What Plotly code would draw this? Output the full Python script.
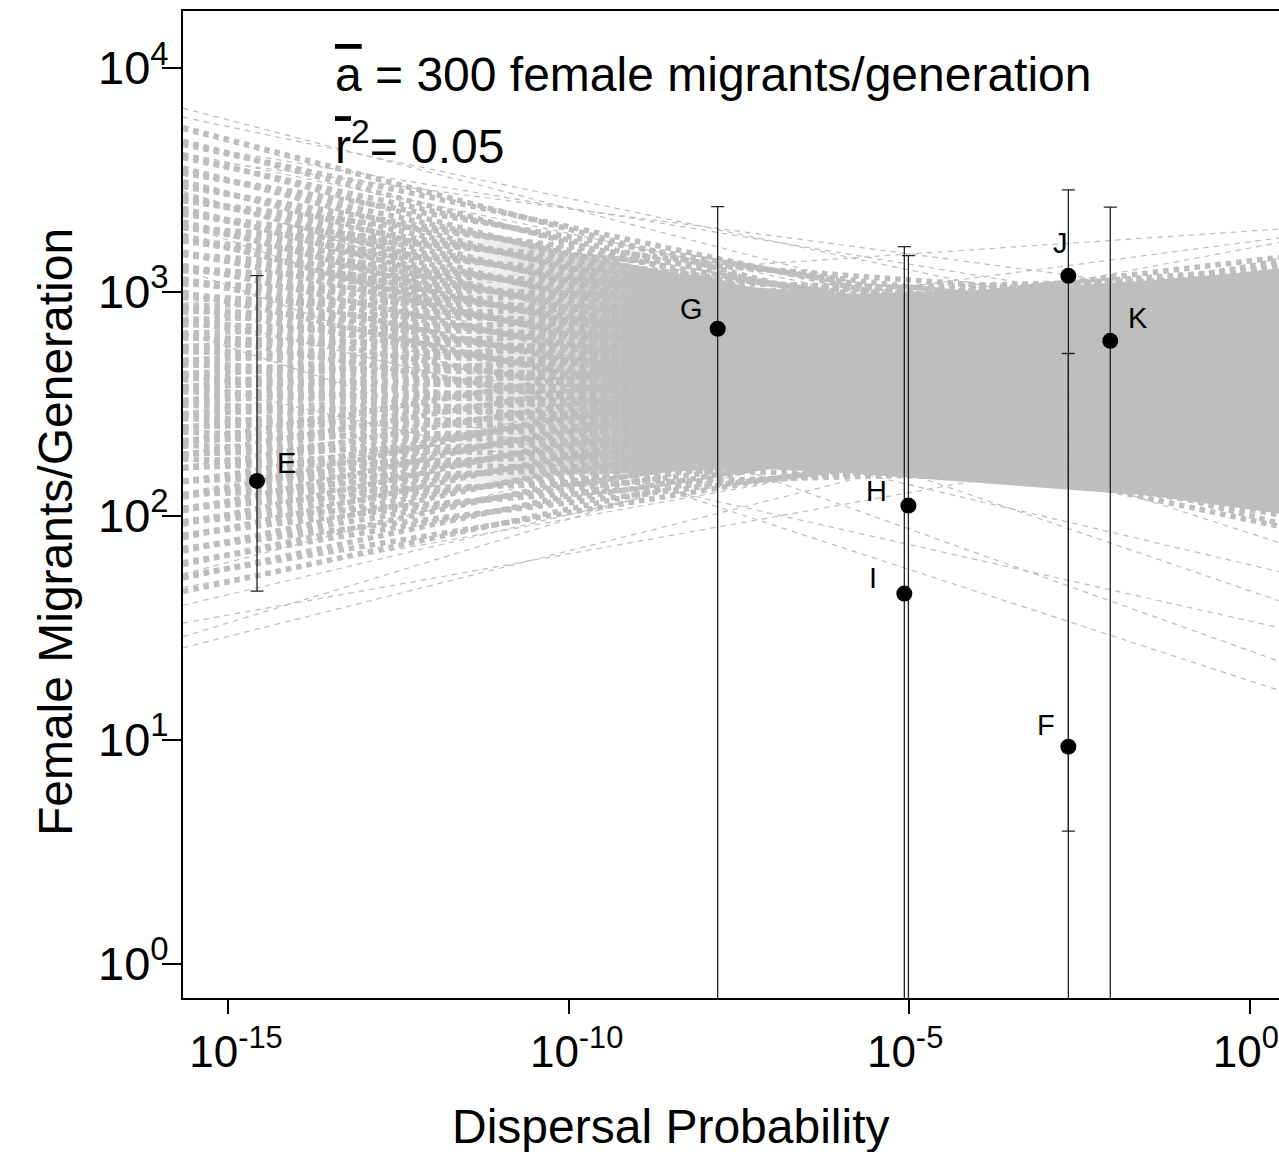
import math
import plotly.graph_objects as go

# ---------------- data ----------------
labels = ["E", "G", "H", "I", "J", "K", "F"]
disp_prob = [2.67e-15, 1.54e-8, 9.7e-6, 8.45e-6, 2.16e-3, 8.9e-3, 2.16e-3]
migrants = [143, 684, 111, 44.9, 1178, 604, 9.3]
ci_upper = [1180, 2400, 1450, 1590, 2850, 2390, 530]
ci_lower = [46, 0.01, 0.01, 0.01, 0.01, 0.01, 3.9]

# bootstrap regression fan (log10 space): core lines given as slope per decade
# and level (log10 y) at the pivot log10(x) = -4.5
fan_pivot_logx = -4.5
fan_core_slopes = [-0.080, -0.065, -0.050, -0.036, -0.022, -0.007, 0.008, 0.022, 0.036, 0.050, 0.065]
fan_core_levels = [
    [2.36, 2.42, 2.48, 2.54, 2.60, 2.66, 2.72, 2.78, 2.84],
    [2.273, 2.333, 2.393, 2.453, 2.513, 2.573, 2.633, 2.693, 2.753, 2.813, 2.873, 2.933],
    [2.251, 2.311, 2.371, 2.431, 2.491, 2.551, 2.611, 2.671, 2.731, 2.791, 2.851, 2.911, 2.971],
    [2.224, 2.284, 2.344, 2.404, 2.464, 2.524, 2.584, 2.644, 2.704, 2.764, 2.824, 2.884, 2.944, 3.004],
    [2.202, 2.262, 2.322, 2.382, 2.442, 2.502, 2.562, 2.622, 2.682, 2.742, 2.802, 2.862, 2.922, 2.982, 3.042],
    [2.175, 2.235, 2.295, 2.355, 2.415, 2.475, 2.535, 2.595, 2.655, 2.715, 2.775, 2.835, 2.895, 2.955, 3.015],
    [2.185, 2.245, 2.305, 2.365, 2.425, 2.485, 2.545, 2.605, 2.665, 2.725, 2.785, 2.845, 2.905, 2.965, 3.025],
    [2.218, 2.278, 2.338, 2.398, 2.458, 2.518, 2.578, 2.638, 2.698, 2.758, 2.818, 2.878, 2.938, 2.998],
    [2.256, 2.316, 2.376, 2.436, 2.496, 2.556, 2.616, 2.676, 2.736, 2.796, 2.856, 2.916, 2.976],
    [2.289, 2.349, 2.409, 2.469, 2.529, 2.589, 2.649, 2.709, 2.769, 2.829, 2.889],
    [2.387, 2.447, 2.507, 2.567, 2.627, 2.687, 2.747, 2.807],
]
# sparse outer lines: log10(y) at left edge and at right edge of the plot
fan_outer_left = [3.82, 3.78, 3.72, 3.66, 3.62, 3.60, 2.95, 2.60, 2.30, 2.10,
                  1.41, 1.46, 1.52, 1.60, 1.68, 1.74, 2.82, 3.10, 2.60, 3.30, 2.90, 3.45]
fan_outer_right = [2.55, 2.75, 2.45, 2.85, 2.60, 2.95, 3.28, 3.24, 3.22, 3.15,
                   2.64, 2.95, 2.40, 2.75, 2.55, 3.00, 1.22, 1.35, 1.50, 1.62, 1.75, 1.88]
# envelope of the dense (grey) part of the fan, log10 units
fan_solid_logx = [-15.66, -13.5, -11.5, -10.1, -7.3, -5.9, -3.7, -1.5, 0.426]
fan_solid_upper = [3.57, 3.42, 3.26, 3.18, 3.02, 2.99, 3.01, 3.05, 3.10]
fan_solid_lower = [1.78, 1.97, 2.14, 2.18, 2.21, 2.19, 2.14, 2.09, 2.01]

x_log_range = [-15.66, 0.426]
y_log_range = [-0.154, 4.254]
x_tickvals = [1e-15, 1e-10, 1e-5, 1]
x_ticktext = ["10<sup>-15</sup>", "10<sup>-10</sup>",
              "10<sup>-5</sup>\u00a0\u00a0", "10<sup>0</sup>\u00a0\u00a0"]
y_tickvals = [1, 10, 100, 1000, 10000]
y_ticktext = ["10<sup>0</sup>", "10<sup>1</sup>", "10<sup>2</sup>", "10<sup>3</sup>", "10<sup>4</sup>"]

# label offsets in px (style)
label_shift = {"E": (29, 18), "G": (-26, 20), "H": (-32, 15), "I": (-31, 16),
               "J": (-8, 33), "K": (28, 23), "F": (-22, 22)}

FONT = "Liberation Sans, Arial, sans-serif"
GREY = "#bebebe"
DASH = "5.5px,5px"

fig = go.Figure()

# dense part of the fan: transparent at the left (striped zone), solid further right
poly_x = [10 ** v for v in fan_solid_logx] + [10 ** v for v in fan_solid_logx[::-1]]
poly_y = [10 ** v for v in fan_solid_upper] + [10 ** v for v in fan_solid_lower[::-1]]
fig.add_trace(go.Scatter(
    x=poly_x, y=poly_y, mode="lines", fill="toself", hoverinfo="skip",
    line=dict(width=0, color="rgba(190,190,190,0)"),
    fillgradient=dict(type="horizontal",
                      colorscale=[[0, "rgba(190,190,190,0)"], [0.22, "rgba(190,190,190,0)"],
                                  [0.33, "rgba(190,190,190,0.45)"], [0.42, "rgba(190,190,190,1)"],
                                  [1, "rgba(190,190,190,1)"]])))

# core fan
xl, xr = x_log_range
cx, cy = [], []
for s, levels in zip(fan_core_slopes, fan_core_levels):
    for p in levels:
        yl = p + s * (xl - fan_pivot_logx)
        yr = p + s * (xr - fan_pivot_logx)
        cx += [10 ** xl, 10 ** xr, None]
        cy += [10 ** yl, 10 ** yr, None]
fig.add_trace(go.Scatter(x=cx, y=cy, mode="lines", hoverinfo="skip",
                         line=dict(color=GREY, width=5.5, dash=DASH)))

ox, oy = [], []
for a, b in zip(fan_outer_left, fan_outer_right):
    ox += [10 ** xl, 10 ** xr, None]
    oy += [10 ** a, 10 ** b, None]
fig.add_trace(go.Scatter(x=ox, y=oy, mode="lines", hoverinfo="skip",
                         line=dict(color=GREY, width=1.2, dash=DASH)))

# points with error bars
fig.add_trace(go.Scatter(
    x=disp_prob, y=migrants, mode="markers",
    marker=dict(color="black", size=16),
    error_y=dict(type="data", symmetric=False,
                 array=[u - m for u, m in zip(ci_upper, migrants)],
                 arrayminus=[m - l for m, l in zip(migrants, ci_lower)],
                 color="#222222", thickness=1.3, width=6.5),
    hoverinfo="skip"))

annotations = []
for lab, xv, yv in zip(labels, disp_prob, migrants):
    dx, dy = label_shift[lab]
    annotations.append(dict(x=math.log10(xv), y=math.log10(yv), xref="x", yref="y",
                            text=lab, showarrow=False, xshift=dx, yshift=dy,
                            font=dict(family=FONT, size=29, color="black")))

annotations.append(dict(xref="paper", yref="paper", x=0.1369, y=0.936, xanchor="left",
                        yanchor="middle", showarrow=False,
                        text="<span style='text-decoration:overline'>a</span> = 300 female migrants/generation",
                        font=dict(family=FONT, size=48, color="black")))
annotations.append(dict(xref="paper", yref="paper", x=0.1369, y=0.866, xanchor="left",
                        yanchor="middle", showarrow=False,
                        text="<span style='text-decoration:overline'>r</span><sup>2</sup>= 0.05",
                        font=dict(family=FONT, size=48, color="black")))
annotations.append(dict(xref="paper", yref="paper", x=-0.1168, y=0.472, xanchor="center",
                        yanchor="middle", showarrow=False, textangle=-90,
                        text="Female Migrants/Generation",
                        font=dict(family=FONT, size=48, color="black")))
annotations.append(dict(xref="paper", yref="paper", x=0.445, y=-0.1300, xanchor="center",
                        yanchor="middle", showarrow=False,
                        text="Dispersal Probability",
                        font=dict(family=FONT, size=48, color="black")))

fig.update_layout(
    width=1279, height=1152,
    margin=dict(l=183, r=0, t=11, b=154, autoexpand=False),
    paper_bgcolor="white", plot_bgcolor="white",
    showlegend=False,
    annotations=annotations,
    xaxis=dict(type="log", range=x_log_range, tickmode="array",
               tickvals=x_tickvals, ticktext=x_ticktext,
               ticks="outside", ticklen=14, tickwidth=1.5, tickcolor="black",
               ticklabelshift=8, ticklabeloverflow="allow", automargin=False,
               showline=True, linewidth=2, linecolor="black", mirror=True,
               showgrid=False, zeroline=False,
               tickfont=dict(family=FONT, size=44, color="black")),
    yaxis=dict(type="log", range=y_log_range, tickmode="array",
               tickvals=y_tickvals, ticktext=y_ticktext,
               ticks="outside", ticklen=19, tickwidth=1.5, tickcolor="black",
               ticklabelstandoff=-16, automargin=False,
               showline=True, linewidth=2, linecolor="black", mirror=False,
               showgrid=False, zeroline=False,
               tickfont=dict(family=FONT, size=47, color="black")),
)

fig.write_html("out.html")
